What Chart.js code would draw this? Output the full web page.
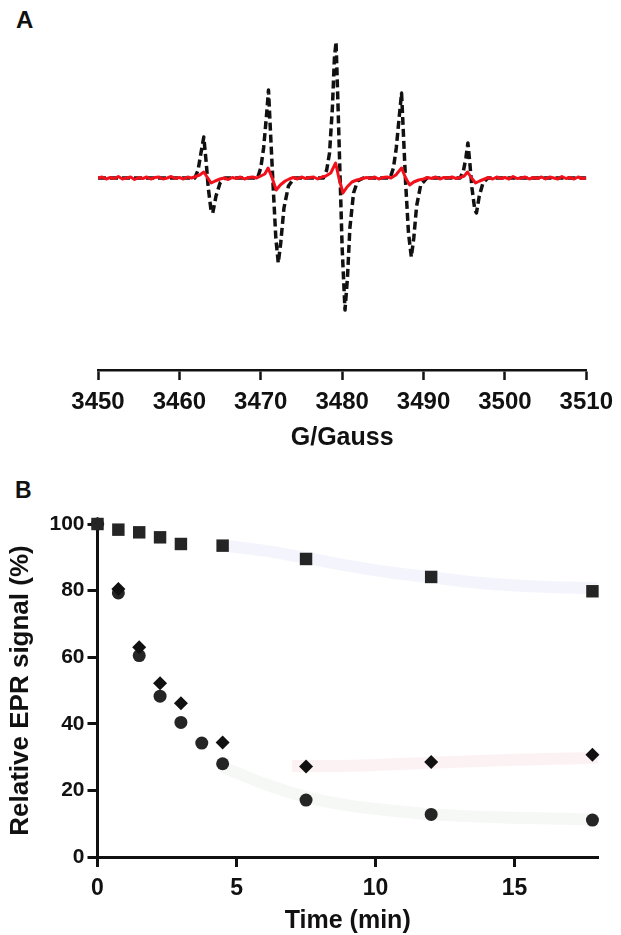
<!DOCTYPE html>
<html>
<head>
<meta charset="utf-8">
<script src="https://cdn.jsdelivr.net/npm/chart.js@4.4.1/dist/chart.umd.min.js"></script>
<style>
	body { margin: 0; background: #fff; }
	.wrap { position: relative; width: 621px; height: 935px; }
	canvas { position: absolute; left: 0; }
	.panel_label { position: absolute; font-family: 'Liberation Sans', Arial, sans-serif; font-weight: bold; color: #111; line-height: 1; }
</style>
</head>
<body>
<div class="wrap">
	<div class="panel_label" style="left:16px; top:8px; font-size:24px;">A</div>
	<div class="panel_label" style="left:15px; top:479px; font-size:23px;">B</div>
	<canvas id="chart_a" width="621" height="460" style="top:0;"></canvas>
	<canvas id="chart_b" width="621" height="475" style="top:460px;"></canvas>
</div>
<script>
// Panel A - EPR spectra (field in G, signal in arbitrary units, baseline = 0)
let control_field = [3450, 3461.9, 3462.3, 3462.65, 3463.0, 3463.3, 3463.55, 3463.9, 3464.1, 3464.5, 3465.0, 3465.6,
	3469.6, 3470.0, 3470.35, 3470.7, 3470.95, 3471.2, 3471.5, 3471.85, 3472.15, 3472.45, 3472.85, 3473.4, 3474.1,
	3477.7, 3478.1, 3478.45, 3478.8, 3479.05, 3479.25, 3479.5, 3479.75, 3480.0, 3480.35, 3480.65, 3480.95, 3481.4, 3481.9, 3482.6,
	3485.9, 3486.3, 3486.65, 3487.0, 3487.3, 3487.55, 3487.8, 3488.15, 3488.5, 3488.8, 3489.15, 3489.65, 3490.4,
	3494.5, 3494.9, 3495.2, 3495.45, 3495.7, 3495.95, 3496.3, 3496.5, 3496.85, 3497.3, 3497.9, 3510];
let control_signal = [0, 0, 8, 25, 41, 15, -10, -33, -35, -18, -5, 0,
	0, 10, 30, 62, 88, 45, -5, -60, -85, -65, -30, -8, 0,
	0, 8, 25, 70, 120, 136, 70, 0, -70, -132, -100, -50, -15, -3, 0,
	0, 10, 30, 60, 85, 40, -5, -55, -79, -60, -28, -7, 0,
	0, 7, 20, 35, 14, -10, -32, -35, -18, -5, 0, 0];
let treated_field = [3450, 3450.5, 3451, 3451.5, 3452, 3452.5, 3453, 3453.5, 3454, 3454.5, 3455, 3455.5, 3456, 3456.5, 3457, 3457.5, 3458, 3458.5, 3459, 3459.5, 3460, 3460.5, 3461, 3461.5, 3462, 3462.5,
	3463, 3463.4, 3463.9, 3464.4, 3465, 3465.5, 3466, 3466.5, 3467, 3467.5, 3468, 3468.5, 3469, 3469.5, 3470, 3470.5,
	3470.9, 3471.4, 3471.9, 3472.4, 3473, 3473.5, 3474, 3474.5, 3475, 3475.5, 3476, 3476.5, 3477, 3477.5, 3478, 3478.6,
	3479.2, 3479.6, 3480.1, 3480.6, 3481.2, 3481.8, 3482.3, 3483, 3483.5, 3484, 3484.5, 3485, 3485.5, 3486, 3486.6,
	3487.3, 3487.8, 3488.3, 3488.8, 3489.4, 3490, 3490.5, 3491, 3491.5, 3492, 3492.5, 3493, 3493.5, 3494, 3494.5, 3495,
	3495.4, 3495.9, 3496.4, 3496.9, 3497.5, 3498, 3498.5, 3499, 3499.5, 3500, 3500.5, 3501, 3501.5, 3502, 3502.5, 3503,
	3503.5, 3504, 3504.5, 3505, 3505.5, 3506, 3506.5, 3507, 3507.5, 3508, 3508.5, 3509, 3509.5, 3510];
let treated_signal = [0, 1, -1, 0.5, -0.5, 1.5, -1, 0, 1, -1.5, 0.5, -0.5, 1, -1, 0.5, 1, -1, 0, 1.5, -0.5, 0.5, -1, 1, 0, 1.5, 3,
	6, 1, -5, -3, -1, 0, -1.5, 0.5, -0.5, 1, -1, 0.5, 1, 0, 2, 4,
	10, 0, -12, -7, -3, -1, 0.5, -1, 1, -0.5, 0.5, 1, -1, 1, 2, 5,
	15, 0, -15, -9, -4, -2, -1, 0.5, -0.5, 1, -1, 0.5, 1, 0, 3,
	10, 0, -7, -4, -2, -1, 0.5, -0.5, 1, -1, 0.5, 0, 1, -0.5, 0.5, 2,
	6, 0, -5, -3, -1, 0.5, -1, 1, -0.5, 0.5, -1, 1.5, -0.5, 0, 1, -1,
	0.5, -0.5, 1, -1, 1, 0, -1, 1.5, -0.5, 0.5, -1, 1, -0.5, 0];
let field_ticks = [3450, 3460, 3470, 3480, 3490, 3500, 3510];

// Panel B - relative EPR signal (%) over time (min)
let time_points = [0, 0.75, 1.5, 2.25, 3, 4.5, 7.5, 12, 17.8];
let square_values = [100, 98.3, 97.5, 96.0, 94.0, 93.5, 89.5, 84.1, 79.8];
let diamond_values = [100, 80.5, 63, 52.2, 46.2, 34.4, 27.2, 28.5, 30.7];
let circle_times = [0, 0.75, 1.5, 2.25, 3, 3.75, 4.5, 7.5, 12, 17.8];
let circle_values = [100, 79.3, 60.5, 48.3, 40.4, 34.2, 28.0, 17.1, 12.8, 11.1];
// faint fitted curves behind the markers
let square_fit_times = [4.5, 6, 7.5, 9, 10.5, 12, 13.5, 15, 16.5, 18];
let square_fit_values = [93.5, 92, 89.8, 87.5, 85.5, 84, 82.5, 81.5, 81, 80.7];
let diamond_fit_times = [7, 9.5, 12, 15, 18];
let diamond_fit_values = [27.3, 27.5, 28.3, 29.2, 29.8];
let circle_fit_times = [4.5, 6, 7.5, 9, 10.5, 12, 15, 18];
let circle_fit_values = [27, 22, 18, 15.5, 14, 12.8, 11.8, 11.2];

let font_family = "'Liberation Sans', Arial, sans-serif";

function toPoints(xs, ys)
{
	let points = [];
	for(let i = 0; i < xs.length; i++)
	{
		points.push({x: xs[i], y: ys[i]});
	}
	return points;
}

function plainLabel(value)
{
	return String(value);
}

let chart_a = new Chart(document.getElementById('chart_a'),
	{
		type: 'scatter',
		data:
			{
				datasets: [
					{
						data: toPoints(treated_field, treated_signal),
						showLine: true,
						borderColor: '#f2101a',
						borderWidth: 3,
						borderJoinStyle: 'round',
						pointRadius: 0,
						tension: 0
					},
					{
						data: toPoints(control_field, control_signal),
						showLine: true,
						borderColor: '#111',
						borderWidth: 3.5,
						borderDash: [8, 4],
						borderJoinStyle: 'round',
						pointRadius: 0,
						tension: 0
					}]
			},
		options:
			{
				responsive: false,
				animation: false,
				layout: { padding: { left: 98, right: 31, top: 30, bottom: 0 } },
				plugins: { legend: { display: false }, tooltip: { enabled: false } },
				scales:
					{
						x:
							{
								type: 'linear',
								min: 3450,
								max: 3510,
								afterBuildTicks: function(scale)
									{
										scale.ticks = field_ticks.map(v => ({value: v}));
									},
								ticks: { color: '#111', padding: 8, callback: plainLabel, font: { family: font_family, size: 24, weight: 'bold' } },
								grid: { drawOnChartArea: false, tickLength: 10, tickWidth: 2.5, color: '#111' },
								border: { color: '#111', width: 2.5 },
								title:
									{
										display: true,
										text: 'G/Gauss',
										color: '#111',
										font: { family: font_family, size: 25, weight: 'bold', lineHeight: 1 },
										padding: { top: 0, bottom: 9 }
									},
								afterFit: function(scale) { scale.height = 90; }
							},
						y: { display: false, min: -192, max: 148 }
					}
			}
	});

let marker_color = '#252525';
let chart_b = new Chart(document.getElementById('chart_b'),
	{
		type: 'scatter',
		data:
			{
				datasets: [
					{
						data: toPoints(time_points, square_values),
						pointStyle: 'rect',
						pointRadius: 8.8,
						backgroundColor: marker_color,
						borderWidth: 0,
						clip: false
					},
					{
						data: toPoints(time_points, diamond_values),
						pointStyle: 'rectRot',
						pointRadius: 7,
						backgroundColor: '#111',
						borderWidth: 0,
						clip: false
					},
					{
						data: toPoints(circle_times, circle_values),
						pointStyle: 'circle',
						pointRadius: 6.5,
						backgroundColor: marker_color,
						borderWidth: 0,
						clip: false
					},
					{
						data: toPoints(square_fit_times, square_fit_values),
						showLine: true,
						borderColor: 'rgba(205, 210, 240, 0.22)',
						borderWidth: 12,
						pointRadius: 0,
						cubicInterpolationMode: 'monotone'
					},
					{
						data: toPoints(diamond_fit_times, diamond_fit_values),
						showLine: true,
						borderColor: 'rgba(245, 195, 202, 0.22)',
						borderWidth: 12,
						pointRadius: 0,
						cubicInterpolationMode: 'monotone'
					},
					{
						data: toPoints(circle_fit_times, circle_fit_values),
						showLine: true,
						borderColor: 'rgba(210, 225, 210, 0.22)',
						borderWidth: 12,
						pointRadius: 0,
						cubicInterpolationMode: 'monotone'
					}]
			},
		options:
			{
				responsive: false,
				animation: false,
				layout: { padding: { left: 0, right: 23, top: 64, bottom: 0 } },
				plugins: { legend: { display: false }, tooltip: { enabled: false } },
				scales:
					{
						x:
							{
								type: 'linear',
								min: 0,
								max: 18,
								ticks: { stepSize: 5, includeBounds: false, color: '#111', padding: 8, callback: plainLabel, font: { family: font_family, size: 23, weight: 'bold' } },
								grid: { drawOnChartArea: false, tickLength: 10, tickWidth: 3, color: '#111' },
								border: { color: '#111', width: 3 },
								title:
									{
										display: true,
										text: 'Time (min)',
										color: '#111',
										font: { family: font_family, size: 25, weight: 'bold', lineHeight: 1 },
										padding: { top: 0, bottom: 1 }
									},
								afterFit: function(scale) { scale.height = 78; }
							},
						y:
							{
								min: 0,
								max: 100,
								ticks: { stepSize: 20, color: '#111', padding: 3, callback: plainLabel, font: { family: font_family, size: 21, weight: 'bold' } },
								grid: { drawOnChartArea: false, tickLength: 10, tickWidth: 3, color: '#111' },
								border: { color: '#111', width: 3 },
								title:
									{
										display: true,
										text: 'Relative EPR signal (%)',
										color: '#111',
										font: { family: font_family, size: 26, weight: 'bold', lineHeight: 1 },
										padding: { top: 8, bottom: 0 }
									},
								afterFit: function(scale) { scale.width = 97.5; }
							}
					}
			}
	});
</script>
</body>
</html>
